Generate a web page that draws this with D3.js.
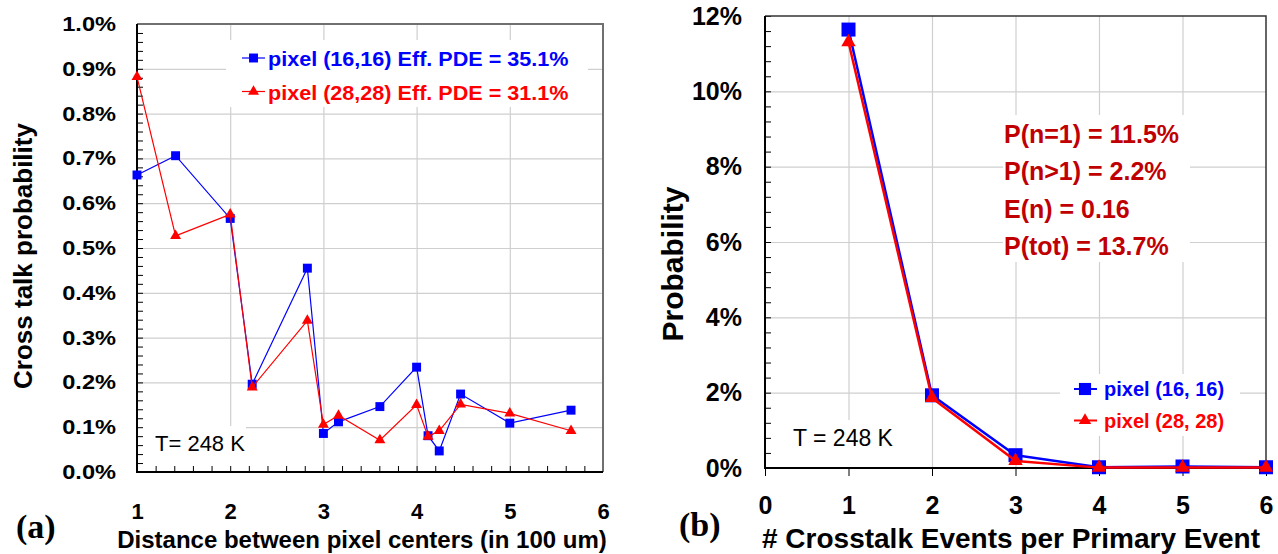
<!DOCTYPE html>
<html>
<head>
<meta charset="utf-8">
<title>crosstalk</title>
<script src="https://cdn.jsdelivr.net/npm/d3@7"></script>
<style>
    body { margin: 0; background: #fff; }
    svg { display: block; font-family: "Liberation Sans", Arial, sans-serif; }
    .grid line { stroke: #cfcfcf; stroke-width: 1.2; }
    .grid path { display: none; }
    .minor line { stroke: #000; stroke-width: 1; }
    .minor path { display: none; }
    .lbl path { display: none; }
    .lbl text { font-weight: bold; fill: #000; }
</style>
</head>
<body>
<script>
// ---- panel (a): cross talk vs distance ----
var distance = [1, 1.414, 2, 2.236, 2.828, 3, 3.162, 3.606, 4, 4.123, 4.243, 4.472, 5, 5.657];
var ctPixel16 = [0.663, 0.706, 0.566, 0.196, 0.455, 0.086, 0.112, 0.146, 0.234, 0.081, 0.047, 0.174, 0.109, 0.138];
var ctPixel28 = [0.882, 0.527, 0.575, 0.189, 0.338, 0.106, 0.126, 0.071, 0.150, 0.079, 0.092, 0.151, 0.131, 0.092];
var ticksAy = [0, 0.1, 0.2, 0.3, 0.4, 0.5, 0.6, 0.7, 0.8, 0.9, 1.0];
var ticksAx = [1, 2, 3, 4, 5, 6];
var legendA = ["pixel (16,16) Eff. PDE = 35.1%", "pixel (28,28) Eff. PDE = 31.1%"];

// ---- panel (b): number of crosstalk events ----
var nEvents = [1, 2, 3, 4, 5, 6];
var probPixel16 = [11.64, 1.93, 0.34, 0.02, 0.04, 0.02];
var probPixel28 = [11.31, 1.86, 0.19, 0.01, 0.01, 0.01];
var ticksBy = [0, 2, 4, 6, 8, 10, 12];
var ticksBx = [0, 1, 2, 3, 4, 5, 6];
var legendB = ["pixel (16, 16)", "pixel (28, 28)"];
var statsB = ["P(n=1) = 11.5%", "P(n>1) = 2.2%", "E(n) = 0.16", "P(tot) = 13.7%"];

var BLUE = "#0000ff", RED = "#ff0000";

var svg = d3.select("body").append("svg")
    .attr("width", 1278)
    .attr("height", 554);

function sym(type, size) {
    return d3.symbol().type(type).size(size)();
}

// ================= panel (a) =================
var ax = {l: 137, r: 603, t: 24, b: 472};
var xa = d3.scaleLinear().domain([1, 6]).range([ax.l, ax.r]);
var ya = d3.scaleLinear().domain([0, 1]).range([ax.b, ax.t]);

svg.append("g").attr("class", "grid")
    .attr("transform", "translate(0," + ax.b + ")")
    .call(d3.axisBottom(xa).tickValues([2, 3, 4, 5]).tickSize(-(ax.b - ax.t)).tickFormat(""));
svg.append("g").attr("class", "grid")
    .attr("transform", "translate(" + ax.l + ",0)")
    .call(d3.axisLeft(ya).tickValues(ticksAy.slice(1, -1)).tickSize(-(ax.r - ax.l)).tickFormat(""));

// white boxes behind legend and temperature note
svg.append("rect").attr("x", 226).attr("y", 40).attr("width", 362).attr("height", 67).attr("fill", "#fff");
svg.append("rect").attr("x", ax.l + 1).attr("y", 426).attr("width", 108).attr("height", 45).attr("fill", "#fff");

// minor ticks (inside)
svg.append("g").attr("class", "minor")
    .attr("transform", "translate(" + ax.l + ",0)")
    .call(d3.axisLeft(ya).tickValues(d3.range(0, 1.0001, 0.02)).tickSize(-6).tickFormat(""));
svg.append("g").attr("class", "minor")
    .attr("transform", "translate(0," + ax.b + ")")
    .call(d3.axisBottom(xa).tickValues(d3.range(1, 6.001, 0.2)).tickSize(-6).tickFormat(""));

// frame
svg.append("path").attr("d", "M" + ax.l + "," + ax.t + "H" + ax.r + "V" + ax.b)
    .attr("fill", "none").attr("stroke", "#707070").attr("stroke-width", 2);
svg.append("path").attr("d", "M" + ax.l + "," + ax.t + "V" + ax.b + "H" + ax.r)
    .attr("fill", "none").attr("stroke", "#000").attr("stroke-width", 2);

// tick labels
var sxA = 1.18;
var gyA = svg.append("g").attr("class", "lbl")
    .attr("transform", "translate(" + ax.l + ",0)")
    .call(d3.axisLeft(ya).tickValues(ticksAy).tickSize(0).tickPadding(21)
        .tickFormat(function(d) { return d.toFixed(1) + "%"; }));
gyA.selectAll("text").attr("font-size", 20)
    .attr("x", -21 / sxA).attr("transform", "scale(" + sxA + ",1)");

svg.append("g").attr("class", "lbl")
    .attr("transform", "translate(0," + ax.b + ")")
    .call(d3.axisBottom(xa).tickValues(ticksAx).tickSize(0).tickPadding(31).tickFormat(d3.format("d")))
    .selectAll("text").attr("font-size", 22);

// axis titles
svg.append("text").attr("transform", "translate(32,256) rotate(-90)")
    .attr("text-anchor", "middle").attr("font-size", 26).attr("font-weight", "bold")
    .text("Cross talk probability");
svg.append("text").attr("x", 362).attr("y", 548)
    .attr("text-anchor", "middle").attr("font-size", 24).attr("font-weight", "bold")
    .text("Distance between pixel centers (in 100 um)");
svg.append("text").attr("x", 16).attr("y", 538)
    .attr("font-family", "'Liberation Serif', 'Times New Roman', serif")
    .attr("font-size", 34).attr("font-weight", "bold")
    .text("(a)");
svg.append("text").attr("x", 155).attr("y", 451)
    .attr("font-size", 22).text("T= 248 K");

// series
var lineA = d3.line()
    .x(function(d, i) { return xa(distance[i]); })
    .y(function(d) { return ya(d); });

var seriesA = [
    {vals: ctPixel16, color: BLUE, shape: d3.symbolSquare, size: 80},
    {vals: ctPixel28, color: RED, shape: d3.symbolTriangle, size: 52}
];
seriesA.forEach(function(s) {
    svg.append("path").datum(s.vals).attr("d", lineA)
        .attr("fill", "none").attr("stroke", s.color).attr("stroke-width", 1.2);
    svg.append("g").selectAll("path").data(s.vals).enter().append("path")
        .attr("d", sym(s.shape, s.size))
        .attr("transform", function(d, i) { return "translate(" + xa(distance[i]) + "," + ya(d) + ")"; })
        .attr("fill", s.color);
});

// legend (a)
var sxL = 1.08;
seriesA.forEach(function(s, i) {
    var y = 58 + i * 33.5;
    svg.append("line").attr("x1", 242).attr("x2", 265).attr("y1", y).attr("y2", y)
        .attr("stroke", s.color).attr("stroke-width", 1.2);
    svg.append("path").attr("d", sym(s.shape, s.size))
        .attr("transform", "translate(253.5," + y + ")").attr("fill", s.color);
    svg.append("text").attr("transform", "translate(268," + (y + 8) + ") scale(" + sxL + ",1)")
        .attr("font-size", 20).attr("font-weight", "bold").attr("fill", s.color)
        .text(legendA[i]);
});

// ================= panel (b) =================
var bx = {l: 765, r: 1266, t: 16, b: 468};
var xb = d3.scaleLinear().domain([0, 6]).range([bx.l, bx.r]);
var yb = d3.scaleLinear().domain([0, 12]).range([bx.b, bx.t]);

var gridB = svg.append("g");
gridB.append("g").attr("class", "grid")
    .attr("transform", "translate(0," + bx.b + ")")
    .call(d3.axisBottom(xb).tickValues([1, 2, 3, 4, 5]).tickSize(-(bx.b - bx.t)).tickFormat(""));
gridB.append("g").attr("class", "grid")
    .attr("transform", "translate(" + bx.l + ",0)")
    .call(d3.axisLeft(yb).tickValues(ticksBy.slice(1, -1)).tickSize(-(bx.r - bx.l)).tickFormat(""));
gridB.selectAll("line").attr("stroke", "#dedede");

// white boxes: stats, legend, temperature
svg.append("rect").attr("x", 1003).attr("y", 115).attr("width", 187).attr("height", 147).attr("fill", "#fff");
svg.append("rect").attr("x", 1060).attr("y", 374).attr("width", 180).attr("height", 62).attr("fill", "#fff");
svg.append("rect").attr("x", bx.l + 1).attr("y", 420).attr("width", 135).attr("height", 47).attr("fill", "#fff");

svg.append("g").attr("class", "minor")
    .attr("transform", "translate(" + bx.l + ",0)")
    .call(d3.axisLeft(yb).tickValues(d3.range(0, 12.001, 0.4)).tickSize(-6).tickFormat(""));
svg.append("g").attr("class", "minor")
    .attr("transform", "translate(0," + bx.b + ")")
    .call(d3.axisBottom(xb).tickValues(ticksBx).tickSize(8).tickFormat(""));

svg.append("path").attr("d", "M" + bx.l + "," + bx.t + "H" + bx.r + "V" + bx.b)
    .attr("fill", "none").attr("stroke", "#333").attr("stroke-width", 1.5);
svg.append("path").attr("d", "M" + bx.l + "," + bx.t + "V" + bx.b + "H" + bx.r)
    .attr("fill", "none").attr("stroke", "#000").attr("stroke-width", 2);

svg.append("g").attr("class", "lbl")
    .attr("transform", "translate(" + bx.l + ",0)")
    .call(d3.axisLeft(yb).tickValues(ticksBy).tickSize(0).tickPadding(23)
        .tickFormat(function(d) { return d + "%"; }))
    .selectAll("text").attr("font-size", 25);
svg.append("g").attr("class", "lbl")
    .attr("transform", "translate(0," + bx.b + ")")
    .call(d3.axisBottom(xb).tickValues(ticksBx).tickSize(0).tickPadding(28).tickFormat(d3.format("d")))
    .selectAll("text").attr("font-size", 25);

svg.append("text").attr("transform", "translate(683,264) rotate(-90)")
    .attr("text-anchor", "middle").attr("font-size", 30).attr("font-weight", "bold")
    .text("Probability");
svg.append("text").attr("x", 1011).attr("y", 548)
    .attr("text-anchor", "middle").attr("font-size", 28).attr("font-weight", "bold")
    .text("# Crosstalk Events per Primary Event");
svg.append("text").attr("x", 679).attr("y", 536)
    .attr("font-family", "'Liberation Serif', 'Times New Roman', serif")
    .attr("font-size", 34).attr("font-weight", "bold")
    .text("(b)");
svg.append("text").attr("x", 793).attr("y", 446)
    .attr("font-size", 23).text("T = 248 K");

// stats
svg.append("g").selectAll("text").data(statsB).enter().append("text")
    .attr("x", 1004)
    .attr("y", function(d, i) { return 143 + i * 37.3; })
    .attr("font-size", 25).attr("font-weight", "bold").attr("fill", "#c00000")
    .text(function(d) { return d; });

var lineB = d3.line()
    .x(function(d, i) { return xb(nEvents[i]); })
    .y(function(d) { return yb(d); });

var seriesB = [
    {vals: probPixel16, color: BLUE, shape: d3.symbolSquare, size: 196},
    {vals: probPixel28, color: RED, shape: d3.symbolTriangle, size: 90}
];
seriesB.forEach(function(s) {
    svg.append("path").datum(s.vals).attr("d", lineB)
        .attr("fill", "none").attr("stroke", s.color).attr("stroke-width", 2.5);
    svg.append("g").selectAll("path").data(s.vals).enter().append("path")
        .attr("d", sym(s.shape, s.size))
        .attr("transform", function(d, i) { return "translate(" + xb(nEvents[i]) + "," + yb(d) + ")"; })
        .attr("fill", s.color);
});

seriesB.forEach(function(s, i) {
    var y = 389 + i * 31.5;
    svg.append("line").attr("x1", 1074).attr("x2", 1097).attr("y1", y).attr("y2", y)
        .attr("stroke", s.color).attr("stroke-width", 2);
    svg.append("path").attr("d", sym(s.shape, s.size * 0.75))
        .attr("transform", "translate(1085," + y + ")").attr("fill", s.color);
    svg.append("text").attr("x", 1104).attr("y", y + 7)
        .attr("font-size", 20).attr("font-weight", "bold").attr("fill", s.color)
        .text(legendB[i]);
});
</script>
</body>
</html>
